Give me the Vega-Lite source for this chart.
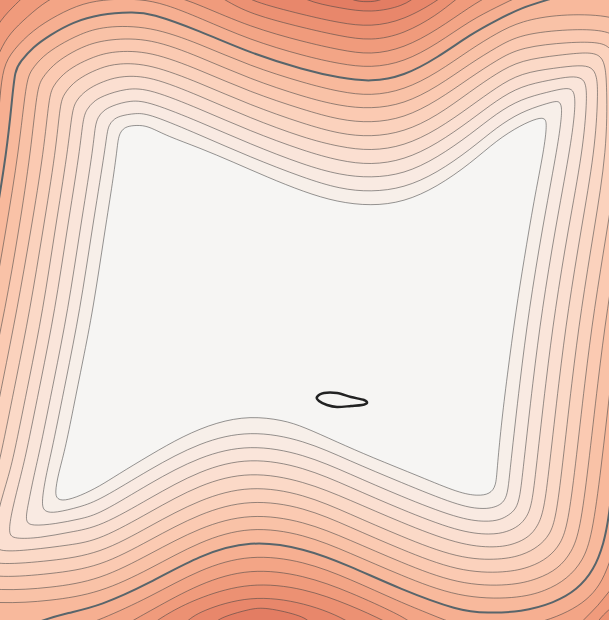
{
  "$schema": "https://vega.github.io/schema/vega-lite/v6.json",
  "width": 609,
  "height": 620,
  "autosize": {"type": "fit", "contains": "padding"},
  "padding": 0,
  "background": "#dd735b",
  "config": {"view": {"stroke": null, "fill": "#dd735b"}},
  "datasets": {
    "contours": [
      {"level":16,"x":3.3,"y":-0.12},{"level":16,"x":3.52,"y":0.01},{"level":16,"x":3.67,"y":0.02},{"level":16,"x":3.82,"y":0.01},{"level":16,"x":4,"y":-0.12},{"level":16,"x":4.4,"y":-0.4},{"level":16,"x":6.4,"y":-0.6},{"level":16,"x":7,"y":-0.6},{"level":16,"x":7,"y":0},{"level":16,"x":7,"y":6.4},{"level":16,"x":7,"y":7},{"level":16,"x":6.4,"y":7},{"level":16,"x":-0.4,"y":7},{"level":16,"x":-1,"y":7},{"level":16,"x":-1,"y":6.4},{"level":16,"x":-1,"y":-0.2},{"level":16,"x":-1,"y":-0.6},{"level":16,"x":-0.4,"y":-0.6},{"level":16,"x":2.9,"y":-0.4},

      {"level":15,"x":2.85,"y":-0.15},{"level":15,"x":3.04,"y":0.01},{"level":15,"x":3.4,"y":0.08},{"level":15,"x":3.71,"y":0.13},{"level":15,"x":4.04,"y":0.06},{"level":15,"x":4.18,"y":-0.05},{"level":15,"x":4.4,"y":-0.25},{"level":15,"x":6.4,"y":-0.6},{"level":15,"x":7,"y":-0.6},{"level":15,"x":7,"y":0},{"level":15,"x":7,"y":6.4},{"level":15,"x":7,"y":7},{"level":15,"x":6.4,"y":7},{"level":15,"x":3.6,"y":6.8},{"level":15,"x":3.3,"y":6.5},{"level":15,"x":3.12,"y":6.24},{"level":15,"x":3.04,"y":6.16},{"level":15,"x":2.65,"y":6.07},{"level":15,"x":2.5,"y":6.09},{"level":15,"x":2.25,"y":6.16},{"level":15,"x":2.12,"y":6.23},{"level":15,"x":1.9,"y":6.5},{"level":15,"x":1.6,"y":6.8},{"level":15,"x":-0.4,"y":7},{"level":15,"x":-1,"y":7},{"level":15,"x":-1,"y":6.4},{"level":15,"x":-1,"y":-0.2},{"level":15,"x":-1,"y":-0.6},{"level":15,"x":-0.4,"y":-0.6},{"level":15,"x":2.5,"y":-0.4},

      {"level":14,"x":2.4,"y":-0.08},{"level":14,"x":2.5,"y":0.01},{"level":14,"x":3.04,"y":0.15},{"level":14,"x":3.4,"y":0.23},{"level":14,"x":3.71,"y":0.27},{"level":14,"x":4.04,"y":0.2},{"level":14,"x":4.37,"y":0.01},{"level":14,"x":4.48,"y":-0.08},{"level":14,"x":4.8,"y":-0.3},{"level":14,"x":6.4,"y":-0.6},{"level":14,"x":7,"y":-0.6},{"level":14,"x":7,"y":0},{"level":14,"x":7,"y":6.4},{"level":14,"x":7,"y":7},{"level":14,"x":6.4,"y":7},{"level":14,"x":4,"y":6.8},{"level":14,"x":3.8,"y":6.5},{"level":14,"x":3.55,"y":6.22},{"level":14,"x":3.04,"y":6.02},{"level":14,"x":2.5,"y":5.95},{"level":14,"x":2,"y":6.11},{"level":14,"x":1.85,"y":6.22},{"level":14,"x":1.6,"y":6.5},{"level":14,"x":1.4,"y":6.8},{"level":14,"x":-0.4,"y":7},{"level":14,"x":-1,"y":7},{"level":14,"x":-1,"y":6.4},{"level":14,"x":-1,"y":-0.2},{"level":14,"x":-1,"y":-0.6},{"level":14,"x":-0.4,"y":-0.6},{"level":14,"x":2,"y":-0.3},

      {"level":13,"x":-0.25,"y":0.8},{"level":13,"x":-0.1,"y":0.4},{"level":13,"x":0,"y":0.2},{"level":13,"x":0.17,"y":0.03},{"level":13,"x":0.25,"y":-0.05},{"level":13,"x":0.6,"y":-0.25},{"level":13,"x":1.5,"y":-0.3},{"level":13,"x":2.05,"y":-0.12},{"level":13,"x":2.25,"y":0},{"level":13,"x":2.5,"y":0.14},{"level":13,"x":3.04,"y":0.28},{"level":13,"x":3.4,"y":0.36},{"level":13,"x":3.71,"y":0.41},{"level":13,"x":4.04,"y":0.34},{"level":13,"x":4.37,"y":0.15},{"level":13,"x":4.55,"y":0},{"level":13,"x":4.75,"y":-0.15},{"level":13,"x":5.4,"y":-0.4},{"level":13,"x":6.4,"y":-0.6},{"level":13,"x":7,"y":-0.6},{"level":13,"x":7,"y":0},{"level":13,"x":7,"y":5.6},{"level":13,"x":6.25,"y":5.98},{"level":13,"x":6.05,"y":6.12},{"level":13,"x":5.96,"y":6.24},{"level":13,"x":5.85,"y":6.4},{"level":13,"x":4.2,"y":6.4},{"level":13,"x":3.85,"y":6.21},{"level":13,"x":3.5,"y":6.05},{"level":13,"x":3.04,"y":5.88},{"level":13,"x":2.5,"y":5.82},{"level":13,"x":2,"y":5.97},{"level":13,"x":1.7,"y":6.12},{"level":13,"x":1.5,"y":6.25},{"level":13,"x":1.2,"y":6.5},{"level":13,"x":0,"y":6.8},{"level":13,"x":-1,"y":6.5},{"level":13,"x":-1,"y":2},

      {"level":12,"x":-0.3,"y":2},{"level":12,"x":-0.18,"y":1.5},{"level":12,"x":-0.12,"y":0.8},{"level":12,"x":0,"y":0.5},{"level":12,"x":0.1,"y":0.33},{"level":12,"x":0.27,"y":0.17},{"level":12,"x":0.47,"y":0},{"level":12,"x":0.7,"y":-0.1},{"level":12,"x":1.2,"y":-0.14},{"level":12,"x":1.7,"y":-0.06},{"level":12,"x":2,"y":0.05},{"level":12,"x":2.5,"y":0.27},{"level":12,"x":3.04,"y":0.42},{"level":12,"x":3.4,"y":0.5},{"level":12,"x":3.71,"y":0.55},{"level":12,"x":4.04,"y":0.48},{"level":12,"x":4.37,"y":0.3},{"level":12,"x":4.71,"y":0.06},{"level":12,"x":4.9,"y":-0.05},{"level":12,"x":5.2,"y":-0.2},{"level":12,"x":6.4,"y":-0.6},{"level":12,"x":7,"y":-0.6},{"level":12,"x":7,"y":0},{"level":12,"x":7,"y":5.6},{"level":12,"x":6.2,"y":5.8},{"level":12,"x":6.09,"y":5.91},{"level":12,"x":5.98,"y":6.06},{"level":12,"x":5.85,"y":6.18},{"level":12,"x":5.75,"y":6.3},{"level":12,"x":5.4,"y":6.4},{"level":12,"x":4.3,"y":6.35},{"level":12,"x":4.1,"y":6.22},{"level":12,"x":4,"y":6.15},{"level":12,"x":3.5,"y":5.92},{"level":12,"x":3.04,"y":5.75},{"level":12,"x":2.5,"y":5.68},{"level":12,"x":2,"y":5.83},{"level":12,"x":1.5,"y":6.11},{"level":12,"x":1.3,"y":6.22},{"level":12,"x":1.1,"y":6.35},{"level":12,"x":0,"y":6.6},{"level":12,"x":-0.8,"y":6.4},{"level":12,"x":-0.9,"y":4.5},{"level":12,"x":-0.5,"y":3},

      {"level":11,"x":-0.34,"y":3.1},{"level":11,"x":-0.19,"y":2.3},{"level":11,"x":-0.06,"y":1.5},{"level":11,"x":-0.02,"y":1.2},{"level":11,"x":0,"y":0.97},{"level":11,"x":0.03,"y":0.67},{"level":11,"x":0.13,"y":0.5},{"level":11,"x":0.33,"y":0.3},{"level":11,"x":0.57,"y":0.15},{"level":11,"x":0.83,"y":0.03},{"level":11,"x":1.1,"y":-0.01},{"level":11,"x":1.4,"y":-0.01},{"level":11,"x":1.65,"y":0.04},{"level":11,"x":2,"y":0.18},{"level":11,"x":2.5,"y":0.4},{"level":11,"x":3.04,"y":0.56},{"level":11,"x":3.4,"y":0.64},{"level":11,"x":3.71,"y":0.68},{"level":11,"x":4.04,"y":0.62},{"level":11,"x":4.37,"y":0.44},{"level":11,"x":4.71,"y":0.2},{"level":11,"x":4.97,"y":0.07},{"level":11,"x":5.21,"y":-0.05},{"level":11,"x":5.5,"y":-0.15},{"level":11,"x":6.2,"y":-0.2},{"level":11,"x":6.8,"y":0.4},{"level":11,"x":6.75,"y":1.5},{"level":11,"x":6.6,"y":2.3},{"level":11,"x":6.46,"y":3.1},{"level":11,"x":6.37,"y":3.8},{"level":11,"x":6.27,"y":4.7},{"level":11,"x":6.2,"y":5.3},{"level":11,"x":6.09,"y":5.65},{"level":11,"x":6,"y":5.85},{"level":11,"x":5.87,"y":6},{"level":11,"x":5.68,"y":6.12},{"level":11,"x":5.45,"y":6.21},{"level":11,"x":5.2,"y":6.27},{"level":11,"x":4.9,"y":6.3},{"level":11,"x":4.59,"y":6.26},{"level":11,"x":4.3,"y":6.14},{"level":11,"x":4,"y":6.02},{"level":11,"x":3.5,"y":5.79},{"level":11,"x":3.04,"y":5.61},{"level":11,"x":2.5,"y":5.54},{"level":11,"x":2,"y":5.69},{"level":11,"x":1.5,"y":5.97},{"level":11,"x":1,"y":6.2},{"level":11,"x":0.7,"y":6.3},{"level":11,"x":0,"y":6.45},{"level":11,"x":-0.6,"y":6.3},{"level":11,"x":-0.75,"y":5.1},{"level":11,"x":-0.63,"y":4.5},{"level":11,"x":-0.49,"y":3.8},

      {"level":10,"x":0.07,"y":1.5},{"level":10,"x":0.12,"y":1},{"level":10,"x":0.15,"y":0.7},{"level":10,"x":0.2,"y":0.62},{"level":10,"x":0.33,"y":0.47},{"level":10,"x":0.5,"y":0.35},{"level":10,"x":0.73,"y":0.22},{"level":10,"x":1,"y":0.14},{"level":10,"x":1.33,"y":0.12},{"level":10,"x":1.5,"y":0.13},{"level":10,"x":2,"y":0.31},{"level":10,"x":2.5,"y":0.53},{"level":10,"x":3.04,"y":0.7},{"level":10,"x":3.4,"y":0.78},{"level":10,"x":3.71,"y":0.82},{"level":10,"x":4.04,"y":0.76},{"level":10,"x":4.37,"y":0.58},{"level":10,"x":4.71,"y":0.34},{"level":10,"x":4.97,"y":0.2},{"level":10,"x":5.21,"y":0.08},{"level":10,"x":5.47,"y":0},{"level":10,"x":5.8,"y":-0.1},{"level":10,"x":6.4,"y":-0.05},{"level":10,"x":6.6,"y":0.5},{"level":10,"x":6.6,"y":1.5},{"level":10,"x":6.46,"y":2.3},{"level":10,"x":6.33,"y":3.1},{"level":10,"x":6.24,"y":3.8},{"level":10,"x":6.14,"y":4.7},{"level":10,"x":6.09,"y":5.17},{"level":10,"x":6.04,"y":5.43},{"level":10,"x":5.94,"y":5.7},{"level":10,"x":5.77,"y":5.9},{"level":10,"x":5.54,"y":6.03},{"level":10,"x":5.21,"y":6.12},{"level":10,"x":4.87,"y":6.13},{"level":10,"x":4.59,"y":6.11},{"level":10,"x":4,"y":5.89},{"level":10,"x":3.5,"y":5.66},{"level":10,"x":3.04,"y":5.48},{"level":10,"x":2.5,"y":5.4},{"level":10,"x":2,"y":5.55},{"level":10,"x":1.5,"y":5.83},{"level":10,"x":1,"y":6.06},{"level":10,"x":0.67,"y":6.13},{"level":10,"x":0.43,"y":6.2},{"level":10,"x":0.1,"y":6.32},{"level":10,"x":-0.4,"y":6.3},{"level":10,"x":-0.65,"y":6},{"level":10,"x":-0.62,"y":5.1},{"level":10,"x":-0.5,"y":4.5},{"level":10,"x":-0.36,"y":3.8},{"level":10,"x":-0.21,"y":3.1},{"level":10,"x":-0.06,"y":2.3},

      {"level":9,"x":0.26,"y":0.82},{"level":9,"x":0.31,"y":0.7},{"level":9,"x":0.43,"y":0.56},{"level":9,"x":0.59,"y":0.45},{"level":9,"x":0.8,"y":0.34},{"level":9,"x":1.04,"y":0.26},{"level":9,"x":1.5,"y":0.26},{"level":9,"x":2,"y":0.44},{"level":9,"x":2.5,"y":0.66},{"level":9,"x":3.04,"y":0.83},{"level":9,"x":3.4,"y":0.92},{"level":9,"x":3.71,"y":0.96},{"level":9,"x":4.04,"y":0.9},{"level":9,"x":4.37,"y":0.73},{"level":9,"x":4.71,"y":0.49},{"level":9,"x":4.97,"y":0.33},{"level":9,"x":5.21,"y":0.21},{"level":9,"x":5.6,"y":0.14},{"level":9,"x":6.1,"y":0.15},{"level":9,"x":6.3,"y":0.25},{"level":9,"x":6.45,"y":0.6},{"level":9,"x":6.46,"y":1.5},{"level":9,"x":6.33,"y":2.3},{"level":9,"x":6.2,"y":3.1},{"level":9,"x":6.11,"y":3.8},{"level":9,"x":6.01,"y":4.7},{"level":9,"x":5.92,"y":5.36},{"level":9,"x":5.83,"y":5.61},{"level":9,"x":5.67,"y":5.79},{"level":9,"x":5.46,"y":5.91},{"level":9,"x":5.16,"y":5.99},{"level":9,"x":4.59,"y":5.98},{"level":9,"x":4,"y":5.75},{"level":9,"x":3.5,"y":5.53},{"level":9,"x":3.04,"y":5.34},{"level":9,"x":2.5,"y":5.26},{"level":9,"x":2,"y":5.41},{"level":9,"x":1.5,"y":5.69},{"level":9,"x":1,"y":5.93},{"level":9,"x":0.5,"y":6.01},{"level":9,"x":0,"y":6.04},{"level":9,"x":-0.52,"y":5.98},{"level":9,"x":-0.5,"y":5.1},{"level":9,"x":-0.37,"y":4.5},{"level":9,"x":-0.23,"y":3.8},{"level":9,"x":-0.08,"y":3.1},{"level":9,"x":0.06,"y":2.3},{"level":9,"x":0.19,"y":1.5},

      {"level":8,"x":0.37,"y":0.89},{"level":8,"x":0.42,"y":0.78},{"level":8,"x":0.53,"y":0.65},{"level":8,"x":0.67,"y":0.55},{"level":8,"x":0.86,"y":0.45},{"level":8,"x":1.09,"y":0.39},{"level":8,"x":1.5,"y":0.38},{"level":8,"x":2,"y":0.57},{"level":8,"x":2.5,"y":0.79},{"level":8,"x":3.04,"y":0.97},{"level":8,"x":3.4,"y":1.06},{"level":8,"x":3.71,"y":1.09},{"level":8,"x":4.04,"y":1.04},{"level":8,"x":4.37,"y":0.87},{"level":8,"x":4.71,"y":0.63},{"level":8,"x":4.97,"y":0.47},{"level":8,"x":5.21,"y":0.34},{"level":8,"x":5.7,"y":0.29},{"level":8,"x":6.05,"y":0.3},{"level":8,"x":6.2,"y":0.38},{"level":8,"x":6.32,"y":0.6},{"level":8,"x":6.33,"y":1.5},{"level":8,"x":6.2,"y":2.3},{"level":8,"x":6.07,"y":3.1},{"level":8,"x":5.98,"y":3.8},{"level":8,"x":5.88,"y":4.7},{"level":8,"x":5.8,"y":5.3},{"level":8,"x":5.72,"y":5.52},{"level":8,"x":5.58,"y":5.69},{"level":8,"x":5.38,"y":5.79},{"level":8,"x":5.11,"y":5.86},{"level":8,"x":4.59,"y":5.85},{"level":8,"x":4,"y":5.62},{"level":8,"x":3.5,"y":5.4},{"level":8,"x":3.04,"y":5.21},{"level":8,"x":2.5,"y":5.13},{"level":8,"x":2,"y":5.27},{"level":8,"x":1.5,"y":5.54},{"level":8,"x":1,"y":5.8},{"level":8,"x":0.5,"y":5.88},{"level":8,"x":0,"y":5.91},{"level":8,"x":-0.4,"y":5.85},{"level":8,"x":-0.37,"y":5.1},{"level":8,"x":-0.24,"y":4.5},{"level":8,"x":-0.1,"y":3.8},{"level":8,"x":0.05,"y":3.1},{"level":8,"x":0.19,"y":2.3},{"level":8,"x":0.31,"y":1.5},

      {"level":7,"x":0.49,"y":0.97},{"level":7,"x":0.53,"y":0.86},{"level":7,"x":0.63,"y":0.74},{"level":7,"x":0.76,"y":0.65},{"level":7,"x":0.93,"y":0.57},{"level":7,"x":1.13,"y":0.51},{"level":7,"x":1.5,"y":0.51},{"level":7,"x":2,"y":0.7},{"level":7,"x":2.5,"y":0.92},{"level":7,"x":3.04,"y":1.1},{"level":7,"x":3.4,"y":1.2},{"level":7,"x":3.71,"y":1.23},{"level":7,"x":4.04,"y":1.18},{"level":7,"x":4.37,"y":1.01},{"level":7,"x":4.71,"y":0.77},{"level":7,"x":4.97,"y":0.6},{"level":7,"x":5.21,"y":0.47},{"level":7,"x":5.7,"y":0.42},{"level":7,"x":6,"y":0.42},{"level":7,"x":6.12,"y":0.48},{"level":7,"x":6.2,"y":0.7},{"level":7,"x":6.2,"y":1.5},{"level":7,"x":6.07,"y":2.3},{"level":7,"x":5.94,"y":3.1},{"level":7,"x":5.85,"y":3.8},{"level":7,"x":5.75,"y":4.7},{"level":7,"x":5.68,"y":5.23},{"level":7,"x":5.61,"y":5.44},{"level":7,"x":5.48,"y":5.58},{"level":7,"x":5.31,"y":5.67},{"level":7,"x":5.06,"y":5.73},{"level":7,"x":4.59,"y":5.72},{"level":7,"x":4,"y":5.49},{"level":7,"x":3.5,"y":5.27},{"level":7,"x":3.04,"y":5.07},{"level":7,"x":2.5,"y":4.99},{"level":7,"x":2,"y":5.13},{"level":7,"x":1.5,"y":5.4},{"level":7,"x":1,"y":5.67},{"level":7,"x":0.5,"y":5.74},{"level":7,"x":0,"y":5.78},{"level":7,"x":-0.28,"y":5.72},{"level":7,"x":-0.24,"y":5.1},{"level":7,"x":-0.16,"y":4.75},{"level":7,"x":-0.11,"y":4.5},{"level":7,"x":0.03,"y":3.8},{"level":7,"x":0.17,"y":3.1},{"level":7,"x":0.31,"y":2.3},{"level":7,"x":0.44,"y":1.5},

      {"level":6,"x":0.6,"y":1.04},{"level":6,"x":0.64,"y":0.94},{"level":6,"x":0.73,"y":0.83},{"level":6,"x":0.85,"y":0.75},{"level":6,"x":1,"y":0.68},{"level":6,"x":1.18,"y":0.63},{"level":6,"x":1.5,"y":0.64},{"level":6,"x":2,"y":0.83},{"level":6,"x":2.5,"y":1.05},{"level":6,"x":3.04,"y":1.24},{"level":6,"x":3.4,"y":1.34},{"level":6,"x":3.71,"y":1.37},{"level":6,"x":4.04,"y":1.32},{"level":6,"x":4.37,"y":1.16},{"level":6,"x":4.71,"y":0.91},{"level":6,"x":4.97,"y":0.73},{"level":6,"x":5.21,"y":0.6},{"level":6,"x":5.6,"y":0.55},{"level":6,"x":5.88,"y":0.52},{"level":6,"x":6,"y":0.55},{"level":6,"x":6.05,"y":0.64},{"level":6,"x":6.07,"y":0.85},{"level":6,"x":6.07,"y":1.5},{"level":6,"x":5.94,"y":2.3},{"level":6,"x":5.81,"y":3.1},{"level":6,"x":5.72,"y":3.8},{"level":6,"x":5.62,"y":4.7},{"level":6,"x":5.56,"y":5.17},{"level":6,"x":5.5,"y":5.35},{"level":6,"x":5.38,"y":5.47},{"level":6,"x":5.23,"y":5.55},{"level":6,"x":5.01,"y":5.6},{"level":6,"x":4.59,"y":5.59},{"level":6,"x":4,"y":5.36},{"level":6,"x":3.5,"y":5.14},{"level":6,"x":3.04,"y":4.94},{"level":6,"x":2.5,"y":4.85},{"level":6,"x":2,"y":4.99},{"level":6,"x":1.5,"y":5.26},{"level":6,"x":1,"y":5.54},{"level":6,"x":0.5,"y":5.61},{"level":6,"x":0,"y":5.65},{"level":6,"x":-0.18,"y":5.6},{"level":6,"x":-0.14,"y":5.1},{"level":6,"x":-0.04,"y":4.75},{"level":6,"x":0.02,"y":4.5},{"level":6,"x":0.16,"y":3.8},{"level":6,"x":0.3,"y":3.1},{"level":6,"x":0.43,"y":2.3},{"level":6,"x":0.56,"y":1.5},

      {"level":5,"x":0.72,"y":1.11},{"level":5,"x":0.76,"y":1.01},{"level":5,"x":0.83,"y":0.93},{"level":5,"x":0.93,"y":0.86},{"level":5,"x":1.07,"y":0.8},{"level":5,"x":1.22,"y":0.76},{"level":5,"x":1.5,"y":0.76},{"level":5,"x":2,"y":0.96},{"level":5,"x":2.5,"y":1.18},{"level":5,"x":3.04,"y":1.38},{"level":5,"x":3.4,"y":1.47},{"level":5,"x":3.71,"y":1.51},{"level":5,"x":4.04,"y":1.46},{"level":5,"x":4.37,"y":1.3},{"level":5,"x":4.71,"y":1.06},{"level":5,"x":4.97,"y":0.87},{"level":5,"x":5.21,"y":0.73},{"level":5,"x":5.55,"y":0.68},{"level":5,"x":5.8,"y":0.65},{"level":5,"x":5.92,"y":0.67},{"level":5,"x":5.97,"y":0.76},{"level":5,"x":5.98,"y":0.95},{"level":5,"x":5.95,"y":1.5},{"level":5,"x":5.81,"y":2.3},{"level":5,"x":5.68,"y":3.1},{"level":5,"x":5.59,"y":3.8},{"level":5,"x":5.49,"y":4.7},{"level":5,"x":5.44,"y":5.1},{"level":5,"x":5.38,"y":5.26},{"level":5,"x":5.29,"y":5.37},{"level":5,"x":5.15,"y":5.44},{"level":5,"x":4.96,"y":5.48},{"level":5,"x":4.59,"y":5.45},{"level":5,"x":4,"y":5.22},{"level":5,"x":3.5,"y":5},{"level":5,"x":3.04,"y":4.81},{"level":5,"x":2.5,"y":4.71},{"level":5,"x":2,"y":4.84},{"level":5,"x":1.5,"y":5.12},{"level":5,"x":1,"y":5.4},{"level":5,"x":0.7,"y":5.45},{"level":5,"x":0.3,"y":5.5},{"level":5,"x":0,"y":5.52},{"level":5,"x":-0.08,"y":5.45},{"level":5,"x":-0.02,"y":5.1},{"level":5,"x":0.09,"y":4.75},{"level":5,"x":0.15,"y":4.5},{"level":5,"x":0.29,"y":3.8},{"level":5,"x":0.43,"y":3.1},{"level":5,"x":0.55,"y":2.3},{"level":5,"x":0.68,"y":1.5},

      {"level":4,"x":0.83,"y":1.18},{"level":4,"x":0.87,"y":1.09},{"level":4,"x":0.93,"y":1.02},{"level":4,"x":1.02,"y":0.96},{"level":4,"x":1.27,"y":0.88},{"level":4,"x":1.5,"y":0.89},{"level":4,"x":2,"y":1.09},{"level":4,"x":2.5,"y":1.31},{"level":4,"x":3.04,"y":1.51},{"level":4,"x":3.4,"y":1.61},{"level":4,"x":3.71,"y":1.65},{"level":4,"x":4.04,"y":1.6},{"level":4,"x":4.37,"y":1.44},{"level":4,"x":4.71,"y":1.2},{"level":4,"x":4.97,"y":1},{"level":4,"x":5.21,"y":0.86},{"level":4,"x":5.5,"y":0.8},{"level":4,"x":5.72,"y":0.76},{"level":4,"x":5.82,"y":0.78},{"level":4,"x":5.86,"y":0.84},{"level":4,"x":5.87,"y":1},{"level":4,"x":5.83,"y":1.5},{"level":4,"x":5.68,"y":2.3},{"level":4,"x":5.55,"y":3.1},{"level":4,"x":5.46,"y":3.8},{"level":4,"x":5.36,"y":4.7},{"level":4,"x":5.32,"y":5.04},{"level":4,"x":5.27,"y":5.17},{"level":4,"x":5.19,"y":5.26},{"level":4,"x":5.07,"y":5.32},{"level":4,"x":4.91,"y":5.35},{"level":4,"x":4.59,"y":5.32},{"level":4,"x":4,"y":5.09},{"level":4,"x":3.5,"y":4.87},{"level":4,"x":3.04,"y":4.67},{"level":4,"x":2.5,"y":4.57},{"level":4,"x":2,"y":4.7},{"level":4,"x":1.5,"y":4.98},{"level":4,"x":1,"y":5.27},{"level":4,"x":0.7,"y":5.32},{"level":4,"x":0.4,"y":5.38},{"level":4,"x":0.14,"y":5.39},{"level":4,"x":0.08,"y":5.34},{"level":4,"x":0.12,"y":5.1},{"level":4,"x":0.21,"y":4.75},{"level":4,"x":0.27,"y":4.5},{"level":4,"x":0.41,"y":3.8},{"level":4,"x":0.55,"y":3.1},{"level":4,"x":0.67,"y":2.3},{"level":4,"x":0.8,"y":1.5},

      {"level":3,"x":0.95,"y":1.26},{"level":3,"x":0.98,"y":1.17},{"level":3,"x":1.03,"y":1.11},{"level":3,"x":1.11,"y":1.06},{"level":3,"x":1.31,"y":1},{"level":3,"x":1.5,"y":1.02},{"level":3,"x":2,"y":1.22},{"level":3,"x":2.5,"y":1.44},{"level":3,"x":3.04,"y":1.65},{"level":3,"x":3.4,"y":1.75},{"level":3,"x":3.71,"y":1.78},{"level":3,"x":4.04,"y":1.74},{"level":3,"x":4.37,"y":1.58},{"level":3,"x":4.71,"y":1.34},{"level":3,"x":4.97,"y":1.13},{"level":3,"x":5.21,"y":0.99},{"level":3,"x":5.48,"y":0.92},{"level":3,"x":5.65,"y":0.88},{"level":3,"x":5.72,"y":0.89},{"level":3,"x":5.75,"y":0.95},{"level":3,"x":5.75,"y":1.12},{"level":3,"x":5.7,"y":1.5},{"level":3,"x":5.55,"y":2.3},{"level":3,"x":5.42,"y":3.1},{"level":3,"x":5.33,"y":3.8},{"level":3,"x":5.23,"y":4.7},{"level":3,"x":5.2,"y":4.97},{"level":3,"x":5.16,"y":5.09},{"level":3,"x":5.09,"y":5.15},{"level":3,"x":5,"y":5.2},{"level":3,"x":4.86,"y":5.22},{"level":3,"x":4.59,"y":5.19},{"level":3,"x":4,"y":4.96},{"level":3,"x":3.5,"y":4.74},{"level":3,"x":3.04,"y":4.54},{"level":3,"x":2.5,"y":4.44},{"level":3,"x":2,"y":4.56},{"level":3,"x":1.5,"y":4.83},{"level":3,"x":1,"y":5.14},{"level":3,"x":0.8,"y":5.19},{"level":3,"x":0.55,"y":5.24},{"level":3,"x":0.32,"y":5.26},{"level":3,"x":0.25,"y":5.22},{"level":3,"x":0.28,"y":5.05},{"level":3,"x":0.34,"y":4.75},{"level":3,"x":0.4,"y":4.5},{"level":3,"x":0.54,"y":3.8},{"level":3,"x":0.68,"y":3.1},{"level":3,"x":0.8,"y":2.3},{"level":3,"x":0.93,"y":1.5},

      {"level":2,"x":1.07,"y":1.33},{"level":2,"x":1.09,"y":1.25},{"level":2,"x":1.13,"y":1.2},{"level":2,"x":1.19,"y":1.16},{"level":2,"x":1.36,"y":1.13},{"level":2,"x":1.5,"y":1.14},{"level":2,"x":2,"y":1.35},{"level":2,"x":2.5,"y":1.57},{"level":2,"x":3.04,"y":1.78},{"level":2,"x":3.4,"y":1.89},{"level":2,"x":3.71,"y":1.92},{"level":2,"x":4.04,"y":1.88},{"level":2,"x":4.37,"y":1.73},{"level":2,"x":4.71,"y":1.49},{"level":2,"x":4.97,"y":1.27},{"level":2,"x":5.21,"y":1.12},{"level":2,"x":5.45,"y":1.04},{"level":2,"x":5.56,"y":1.01},{"level":2,"x":5.6,"y":1.02},{"level":2,"x":5.62,"y":1.08},{"level":2,"x":5.61,"y":1.22},{"level":2,"x":5.57,"y":1.5},{"level":2,"x":5.42,"y":2.3},{"level":2,"x":5.29,"y":3.1},{"level":2,"x":5.2,"y":3.8},{"level":2,"x":5.1,"y":4.7},{"level":2,"x":5.08,"y":4.91},{"level":2,"x":5.05,"y":5},{"level":2,"x":5,"y":5.05},{"level":2,"x":4.92,"y":5.08},{"level":2,"x":4.81,"y":5.09},{"level":2,"x":4.59,"y":5.06},{"level":2,"x":4,"y":4.82},{"level":2,"x":3.5,"y":4.61},{"level":2,"x":3.04,"y":4.4},{"level":2,"x":2.5,"y":4.3},{"level":2,"x":2,"y":4.42},{"level":2,"x":1.5,"y":4.69},{"level":2,"x":1,"y":5},{"level":2,"x":0.8,"y":5.07},{"level":2,"x":0.55,"y":5.13},{"level":2,"x":0.45,"y":5.12},{"level":2,"x":0.41,"y":5.05},{"level":2,"x":0.46,"y":4.75},{"level":2,"x":0.52,"y":4.5},{"level":2,"x":0.66,"y":3.8},{"level":2,"x":0.8,"y":3.1},{"level":2,"x":0.92,"y":2.3},{"level":2,"x":1.05,"y":1.5},

      {"level":1,"x":1.18,"y":1.4},{"level":1,"x":1.2,"y":1.33},{"level":1,"x":1.23,"y":1.29},{"level":1,"x":1.28,"y":1.26},{"level":1,"x":1.4,"y":1.25},{"level":1,"x":1.5,"y":1.27},{"level":1,"x":1.67,"y":1.36},{"level":1,"x":2,"y":1.48},{"level":1,"x":2.33,"y":1.62},{"level":1,"x":2.67,"y":1.77},{"level":1,"x":3.04,"y":1.92},{"level":1,"x":3.37,"y":2.02},{"level":1,"x":3.71,"y":2.06},{"level":1,"x":4.04,"y":2.02},{"level":1,"x":4.37,"y":1.87},{"level":1,"x":4.71,"y":1.63},{"level":1,"x":4.97,"y":1.4},{"level":1,"x":5.21,"y":1.25},{"level":1,"x":5.38,"y":1.18},{"level":1,"x":5.45,"y":1.18},{"level":1,"x":5.47,"y":1.24},{"level":1,"x":5.44,"y":1.5},{"level":1,"x":5.34,"y":2},{"level":1,"x":5.24,"y":2.6},{"level":1,"x":5.16,"y":3.1},{"level":1,"x":5.07,"y":3.77},{"level":1,"x":5.01,"y":4.27},{"level":1,"x":4.97,"y":4.7},{"level":1,"x":4.96,"y":4.86},{"level":1,"x":4.9,"y":4.94},{"level":1,"x":4.78,"y":4.96},{"level":1,"x":4.59,"y":4.93},{"level":1,"x":4.21,"y":4.77},{"level":1,"x":3.71,"y":4.57},{"level":1,"x":3.37,"y":4.42},{"level":1,"x":3.04,"y":4.27},{"level":1,"x":2.83,"y":4.2},{"level":1,"x":2.5,"y":4.16},{"level":1,"x":2.17,"y":4.22},{"level":1,"x":1.83,"y":4.36},{"level":1,"x":1.5,"y":4.55},{"level":1,"x":1.17,"y":4.75},{"level":1,"x":1,"y":4.86},{"level":1,"x":0.8,"y":4.96},{"level":1,"x":0.64,"y":5.01},{"level":1,"x":0.57,"y":4.99},{"level":1,"x":0.55,"y":4.93},{"level":1,"x":0.58,"y":4.75},{"level":1,"x":0.65,"y":4.5},{"level":1,"x":0.73,"y":4.1},{"level":1,"x":0.83,"y":3.6},{"level":1,"x":0.93,"y":3.1},{"level":1,"x":1.05,"y":2.3},{"level":1,"x":1.13,"y":1.8},{"level":1,"x":1.17,"y":1.5}
    ],
    "loop": [
      {"x":3.17,"y":3.97},{"x":3.24,"y":3.93},{"x":3.37,"y":3.93},{"x":3.51,"y":3.97},{"x":3.64,"y":4},{"x":3.67,"y":4.03},{"x":3.62,"y":4.05},{"x":3.51,"y":4.06},{"x":3.37,"y":4.07},{"x":3.27,"y":4.05},{"x":3.19,"y":4.01}
    ]
  },
  "encoding": {
    "x": {"field": "x", "type": "quantitative", "scale": {"domain": [0, 6.09], "nice": false, "zero": false}, "axis": null},
    "y": {"field": "y", "type": "quantitative", "scale": {"domain": [0, 6.2], "nice": false, "zero": false, "reverse": true}, "axis": null},
    "order": {"value": null}
  },
  "layer": [
    {
      "data": {"name": "contours"},
      "mark": {"type": "line", "filled": true, "interpolate": "basis-closed", "clip": true, "strokeWidth": 0},
      "encoding": {
        "color": {
          "field": "level",
          "type": "ordinal",
          "scale": {
            "domain": [1, 2, 3, 4, 5, 6, 7, 8, 9, 10, 11, 12, 13, 14, 15, 16],
            "range": ["#f6f5f3", "#f7efe9", "#f9eae2", "#fae5da", "#fbdfd1", "#fbd9c7", "#fbd2bd", "#fbcab2", "#f9c2a7", "#f8b99c", "#f6af91", "#f3a586", "#f09b7c", "#ec9173", "#e8876b", "#e37d63"]
          },
          "legend": null
        }
      }
    },
    {
      "data": {"name": "contours"},
      "transform": [{"filter": "datum.level != 10"}],
      "mark": {"type": "line", "interpolate": "basis-closed", "clip": true, "stroke": "#444444", "strokeOpacity": 0.7, "strokeWidth": 0.8},
      "encoding": {"detail": {"field": "level"}}
    },
    {
      "data": {"name": "contours"},
      "transform": [{"filter": "datum.level == 10"}],
      "mark": {"type": "line", "interpolate": "basis-closed", "clip": true, "stroke": "#58656b", "strokeWidth": 2},
      "encoding": {"detail": {"field": "level"}}
    },
    {
      "data": {"name": "loop"},
      "mark": {"type": "line", "interpolate": "cardinal-closed", "clip": true, "stroke": "#222222", "strokeWidth": 2.5},
      "encoding": {}
    }
  ]
}
